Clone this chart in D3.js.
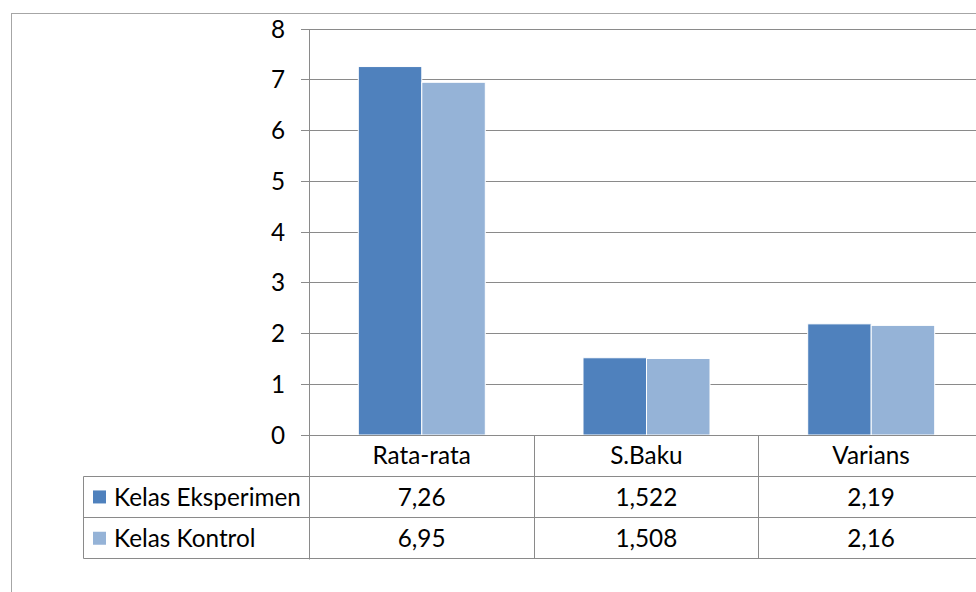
<!DOCTYPE html>
<html>
<head>
<meta charset="utf-8">
<script src="https://cdn.jsdelivr.net/npm/d3@7"></script>
<style>
  html, body { margin: 0; padding: 0; background: #fff; }
  svg { display: block; font-family: Lato, "Open Sans", sans-serif; }
</style>
</head>
<body>
<svg id="chart" width="976" height="592"></svg>
<script>
// Statistics compared between the two classes
const categories = ["Rata-rata", "S.Baku", "Varians"];
const seriesNames = ["Kelas Eksperimen", "Kelas Kontrol"];
const eksperimen = [7.26, 1.522, 2.19];
const kontrol = [6.95, 1.508, 2.16];
const valueLabels = [["7,26", "1,522", "2,19"], ["6,95", "1,508", "2,16"]];
const yTicks = [0, 1, 2, 3, 4, 5, 6, 7, 8];
const colors = ["#4F81BD", "#95B3D7"];

const series = [eksperimen, kontrol];

const svg = d3.select("#chart");
const fontSize = 24.3;
const gridColor = "#8a8a8a";
const crisp = v => Math.floor(v) + 0.5;

// chart area frame
svg.append("rect")
  .attr("x", 11.5).attr("y", 13.5)
  .attr("width", 1000).attr("height", 1000)
  .attr("fill", "none").attr("stroke", "#a6a6a6").attr("stroke-width", 1);

const plotLeft = 309.3, step = 224.7;
const x0 = d3.scaleBand().domain(categories)
  .range([plotLeft, plotLeft + step * categories.length]).padding(0);
const x1 = d3.scaleBand().domain(seriesNames)
  .range([49, 176]).padding(0);
const y = d3.scaleLinear().domain([0, 8]).range([435, 29]);

// horizontal gridlines with ticks
const grid = svg.append("g");
grid.selectAll("line").data(yTicks).join("line")
  .attr("x1", 301).attr("x2", 976)
  .attr("y1", d => crisp(y(d))).attr("y2", d => crisp(y(d)))
  .attr("stroke", gridColor).attr("stroke-width", 1);

// y axis labels
svg.append("g").selectAll("text").data(yTicks).join("text")
  .attr("x", 285).attr("y", d => y(d))
  .attr("dy", "0.36em")
  .attr("text-anchor", "end")
  .attr("font-size", fontSize).attr("fill", "#000")
  .text(d => d);

// bars
const groups = svg.append("g").selectAll("g").data(categories).join("g")
  .attr("transform", c => `translate(${x0(c)},0)`);
groups.selectAll("rect")
  .data((c, i) => series.map((s, k) => ({ name: seriesNames[k], value: s[i], k })))
  .join("rect")
  .attr("x", d => x1(d.name))
  .attr("y", d => y(d.value))
  .attr("width", x1.bandwidth())
  .attr("height", d => y(0) - y(d.value))
  .attr("fill", d => colors[d.k])
  .attr("stroke", "#fff").attr("stroke-width", 1);

// y axis line
svg.append("line")
  .attr("x1", crisp(plotLeft)).attr("x2", crisp(plotLeft))
  .attr("y1", y(8)).attr("y2", 559.5)
  .attr("stroke", gridColor);

// data table
const rowTop = 435, rowH = 41.3;
const tableLeft = 83.5;
const rows = [rowTop, rowTop + rowH, rowTop + 2 * rowH, rowTop + 3 * rowH];
const tbl = svg.append("g").attr("stroke", gridColor).attr("stroke-width", 1);
// horizontal rules
tbl.append("line").attr("x1", plotLeft).attr("x2", 976)
  .attr("y1", crisp(rows[0])).attr("y2", crisp(rows[0]));
[1, 2, 3].forEach(r => {
  tbl.append("line").attr("x1", tableLeft).attr("x2", 976)
    .attr("y1", crisp(rows[r])).attr("y2", crisp(rows[r]));
});
// vertical rules
tbl.append("line").attr("x1", tableLeft).attr("x2", tableLeft)
  .attr("y1", crisp(rows[1])).attr("y2", crisp(rows[3]));
categories.forEach(c => {
  const xr = crisp(x0(c) + step);
  tbl.append("line").attr("x1", xr).attr("x2", xr)
    .attr("y1", rows[0]).attr("y2", crisp(rows[3]));
});

// category header labels
svg.append("g").selectAll("text").data(categories).join("text")
  .attr("x", c => x0(c) + step / 2)
  .attr("y", (rows[0] + rows[1]) / 2).attr("dy", "0.36em")
  .attr("text-anchor", "middle").attr("font-size", fontSize).attr("fill", "#000")
  .text(c => c);

// legend keys and value cells
seriesNames.forEach((name, k) => {
  const cy = (rows[k + 1] + rows[k + 2]) / 2;
  svg.append("rect")
    .attr("x", 93).attr("y", cy - 6.5).attr("width", 13).attr("height", 13)
    .attr("fill", colors[k]);
  svg.append("text")
    .attr("x", 114).attr("y", cy).attr("dy", "0.36em")
    .attr("font-size", fontSize).attr("fill", "#000")
    .text(name);
  svg.append("g").selectAll("text").data(categories).join("text")
    .attr("x", c => x0(c) + step / 2)
    .attr("y", cy).attr("dy", "0.36em")
    .attr("text-anchor", "middle").attr("font-size", fontSize).attr("fill", "#000")
    .text((c, i) => valueLabels[k][i]);
});
</script>
</body>
</html>
